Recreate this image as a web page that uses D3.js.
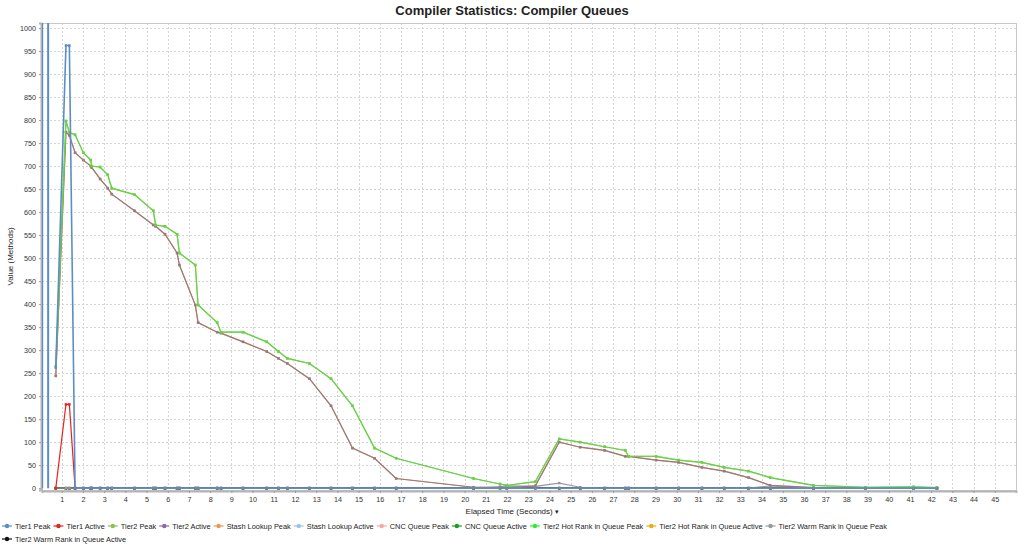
<!DOCTYPE html>
<html>
<head>
<meta charset="utf-8">
<title>Compiler Statistics: Compiler Queues</title>
<script src="https://cdn.jsdelivr.net/npm/d3@7"></script>
<style>
    body { margin: 0; background: #fff; }
    svg { display: block; font-family: "Liberation Sans", Arial, sans-serif; }
</style>
</head>
<body>
<svg id="chart" width="1024" height="547"></svg>
<script>
// Sample times (seconds), shared by every series
const times = [0.72, 1.2, 1.36, 1.63, 2.02, 2.37, 2.41, 2.81, 3.17, 3.36, 4.43, 5.32, 5.43, 5.87, 6.44, 6.55,
    7.3, 7.43, 8.33, 8.51, 9.55, 10.67, 11.22, 11.64, 12.68, 13.7, 14.71, 15.75, 16.77, 20.42, 21.67, 21.99,
    23.33, 24.46, 25.45, 26.6, 27.58, 27.73, 29.03, 30.09, 31.19, 32.24, 33.39, 34.41, 36.45, 38.9, 41.17, 42.27];

// Tier1 peak at startup runs far off the top of the chart
const startupTimes = [0.08, 0.08, 0.36, 0.36];
const startupTier1Peak = [0, 5000, 5000, 0];

const tier1Peak = [262, 962, 962, 0, 0, 0, 0, 0, 0, 0, 0, 0, 0, 0, 0, 0,
    0, 0, 0, 0, 0, 0, 0, 0, 0, 0, 0, 0, 0, 0, 0, 0,
    0, 0, 0, 0, 0, 0, 0, 0, 0, 0, 0, 0, 0, 0, 0, 0];
const tier1Active = [0, 182, 182, 0, 0, 0, 0, 0, 0, 0, 0, 0, 0, 0, 0, 0,
    0, 0, 0, 0, 0, 0, 0, 0, 0, 0, 0, 0, 0, 0, 0, 0,
    0, 0, 0, 0, 0, 0, 0, 0, 0, 0, 0, 0, 0, 0, 0, 0];
const tier2Peak = [265, 798, 773, 768, 729, 713, 700, 698, 681, 652, 638, 603, 572, 569, 552, 511,
    485, 398, 360, 339, 339, 318, 297, 282, 271, 238, 179, 87, 65, 21, 9, 6,
    14, 107, 100, 90, 82, 69, 69, 61, 56, 45, 37, 23, 6, 2, 3, 1];
const tier2Active = [244, 774, 767, 729, 713, 700, 697, 672, 652, 639, 603, 572, 569, 552, 511, 485,
    398, 360, 339, 337, 318, 297, 282, 271, 238, 179, 87, 65, 21, 2, 2, 1,
    5, 100, 89, 82, 69, 69, 61, 56, 45, 37, 23, 6, 1, 0, 0, 0];
const zeros = times.map(() => 0);
const warmPeak = [0, 0, 0, 0, 0, 0, 0, 0, 0, 0, 0, 0, 0, 0, 0, 0,
    0, 0, 0, 0, 0, 0, 0, 0, 0, 0, 0, 0, 0, 0, 3, 5,
    4, 11, 2, 0, 0, 0, 0, 0, 0, 0, 0, 5, 0, 0, 0, 0];
const warmActive = [0, 0, 0, 0, 0, 0, 0, 0, 0, 0, 0, 0, 0, 0, 0, 0,
    0, 0, 0, 0, 0, 0, 0, 0, 0, 0, 0, 0, 0, 0, 1, 2,
    2, 0, 0, 0, 0, 0, 0, 0, 0, 0, 0, 0, 0, 0, 0, 0];

const xTicks = d3.range(1, 46);
const yTicks = d3.range(0, 1001, 50);

// Legend order; draw order is separate below
const series = [
    { name: 'Tier1 Peak', color: '#5b8ec6', values: tier1Peak },
    { name: 'Tier1 Active', color: '#e8231f', values: tier1Active },
    { name: 'Tier2 Peak', color: '#8cc152', values: tier2Peak },
    { name: 'Tier2 Active', color: '#8a6aa8', values: tier2Active },
    { name: 'Stash Lookup Peak', color: '#e89a55', values: zeros },
    { name: 'Stash Lookup Active', color: '#9dc3e6', values: zeros },
    { name: 'CNC Queue Peak', color: '#f2a9a9', values: zeros },
    { name: 'CNC Queue Active', color: '#1e9a1e', values: zeros },
    { name: 'Tier2 Hot Rank in Queue Peak', color: '#2cec2c', values: tier2Peak },
    { name: 'Tier2 Hot Rank in Queue Active', color: '#e8b010', values: tier2Active },
    { name: 'Tier2 Warm Rank in Queue Peak', color: '#9a9a9a', values: warmPeak },
    { name: 'Tier2 Warm Rank in Queue Active', color: '#111111', values: warmActive }
];
const drawOrder = [4, 5, 6, 7, 11, 10, 1, 9, 3, 8, 2, 0];
const seriesOpacity = { 3: 0.84, 2: 0.75 };

const svg = d3.select('#chart');
const plot = { left: 42, right: 1016, top: 23, bottom: 490 };

const x = d3.scaleLinear().domain([0.07, 46.0]).range([plot.left, plot.right]);
const y = d3.scaleLinear().domain([-4, 1011]).range([plot.bottom, plot.top]);

// Title
svg.append('text')
    .attr('x', 512).attr('y', 15)
    .attr('text-anchor', 'middle')
    .attr('font-size', 13).attr('font-weight', 'bold').attr('fill', '#222')
    .text('Compiler Statistics: Compiler Queues');

// Grid
const grid = svg.append('g').attr('stroke', '#d4d4d4').attr('stroke-dasharray', '2,2').attr('stroke-width', 1);
grid.selectAll('line.v').data(xTicks).join('line')
    .attr('x1', d => Math.round(x(d)) + 0.5).attr('x2', d => Math.round(x(d)) + 0.5)
    .attr('y1', plot.top).attr('y2', plot.bottom);
grid.selectAll('line.h').data(yTicks.filter(d => d > 0)).join('line')
    .attr('x1', plot.left).attr('x2', plot.right)
    .attr('y1', d => Math.round(y(d)) + 0.5).attr('y2', d => Math.round(y(d)) + 0.5);

// Frame
svg.append('rect')
    .attr('x', plot.left + 0.5).attr('y', plot.top + 0.5)
    .attr('width', plot.right - plot.left).attr('height', plot.bottom - plot.top)
    .attr('fill', 'none').attr('stroke', '#c8c8c8');

// Axes
const xAxis = svg.append('g')
    .attr('transform', `translate(0,${plot.bottom + 1})`)
    .call(d3.axisBottom(x).tickValues(xTicks).tickFormat(d3.format('d')).tickSize(2).tickPadding(4));
const yAxis = svg.append('g')
    .attr('transform', `translate(${plot.left - 1},0)`)
    .call(d3.axisLeft(y).tickValues(yTicks).tickFormat(d3.format('d')).tickSize(2).tickPadding(3));
[xAxis, yAxis].forEach(a => {
    a.select('.domain').attr('stroke', '#b4b4b4').attr('stroke-width', 2);
    a.selectAll('.tick line').attr('stroke', '#999');
    a.selectAll('.tick text').attr('font-size', 7.2).attr('fill', '#333')
        .attr('font-family', '"Liberation Sans", Arial, sans-serif');
});

// Axis titles
const xTitle = svg.append('text')
    .attr('x', 512).attr('y', 514)
    .attr('text-anchor', 'middle')
    .attr('font-size', 8).attr('fill', '#222');
xTitle.append('tspan').text('Elapsed Time (Seconds) ');
xTitle.append('tspan').attr('font-family', '"DejaVu Sans"').attr('font-size', 7).text('▾');

svg.append('text')
    .attr('transform', `translate(13,${(plot.top + plot.bottom) / 2}) rotate(-90)`)
    .attr('text-anchor', 'middle')
    .attr('font-size', 8).attr('fill', '#222')
    .text('Value (Methods)');

// Series
svg.append('clipPath').attr('id', 'plot-clip')
    .append('rect')
    .attr('x', plot.left).attr('y', plot.top)
    .attr('width', plot.right - plot.left).attr('height', plot.bottom - plot.top);

const layer = svg.append('g').attr('clip-path', 'url(#plot-clip)');
const line = d3.line().x(d => x(d[0])).y(d => y(d[1]));

// startup spike of Tier1 Peak
layer.append('path')
    .datum(startupTimes.map((t, i) => [t, startupTier1Peak[i]]))
    .attr('d', line)
    .attr('fill', 'none').attr('stroke', series[0].color).attr('stroke-width', 2);

drawOrder.forEach(si => {
    const s = series[si];
    const pts = times.map((t, i) => [t, s.values[i]]);
    const g = layer.append('g').attr('opacity', seriesOpacity[si] || 1);
    g.append('path')
        .datum(pts)
        .attr('d', line)
        .attr('fill', 'none')
        .attr('stroke', s.color)
        .attr('stroke-width', si === 0 ? 1.6 : 1.2);
    g.selectAll('rect').data(pts).join('rect')
        .attr('x', d => x(d[0]) - 1.25).attr('y', d => y(d[1]) - 1.25)
        .attr('width', 2.5).attr('height', 2.5)
        .attr('fill', s.color);
});

// Legend
const legend = svg.append('g').attr('font-size', 7.4).attr('fill', '#222');
let lx = 2;
let ly = 526;
series.forEach((s, i) => {
    if (i === series.length - 1) { lx = 2; ly = 539; }
    const item = legend.append('g').attr('transform', `translate(${lx},${ly})`);
    item.append('line')
        .attr('x1', 0).attr('x2', 10).attr('y1', 0).attr('y2', 0)
        .attr('stroke', s.color).attr('stroke-width', 1.2);
    item.append('circle').attr('cx', 5).attr('cy', 0).attr('r', 2.2).attr('fill', s.color);
    const label = item.append('text')
        .attr('x', 13).attr('y', 0).attr('dy', '0.35em')
        .text(s.name);
    lx += 13 + label.node().getComputedTextLength() + 3;
});
</script>
</body>
</html>
